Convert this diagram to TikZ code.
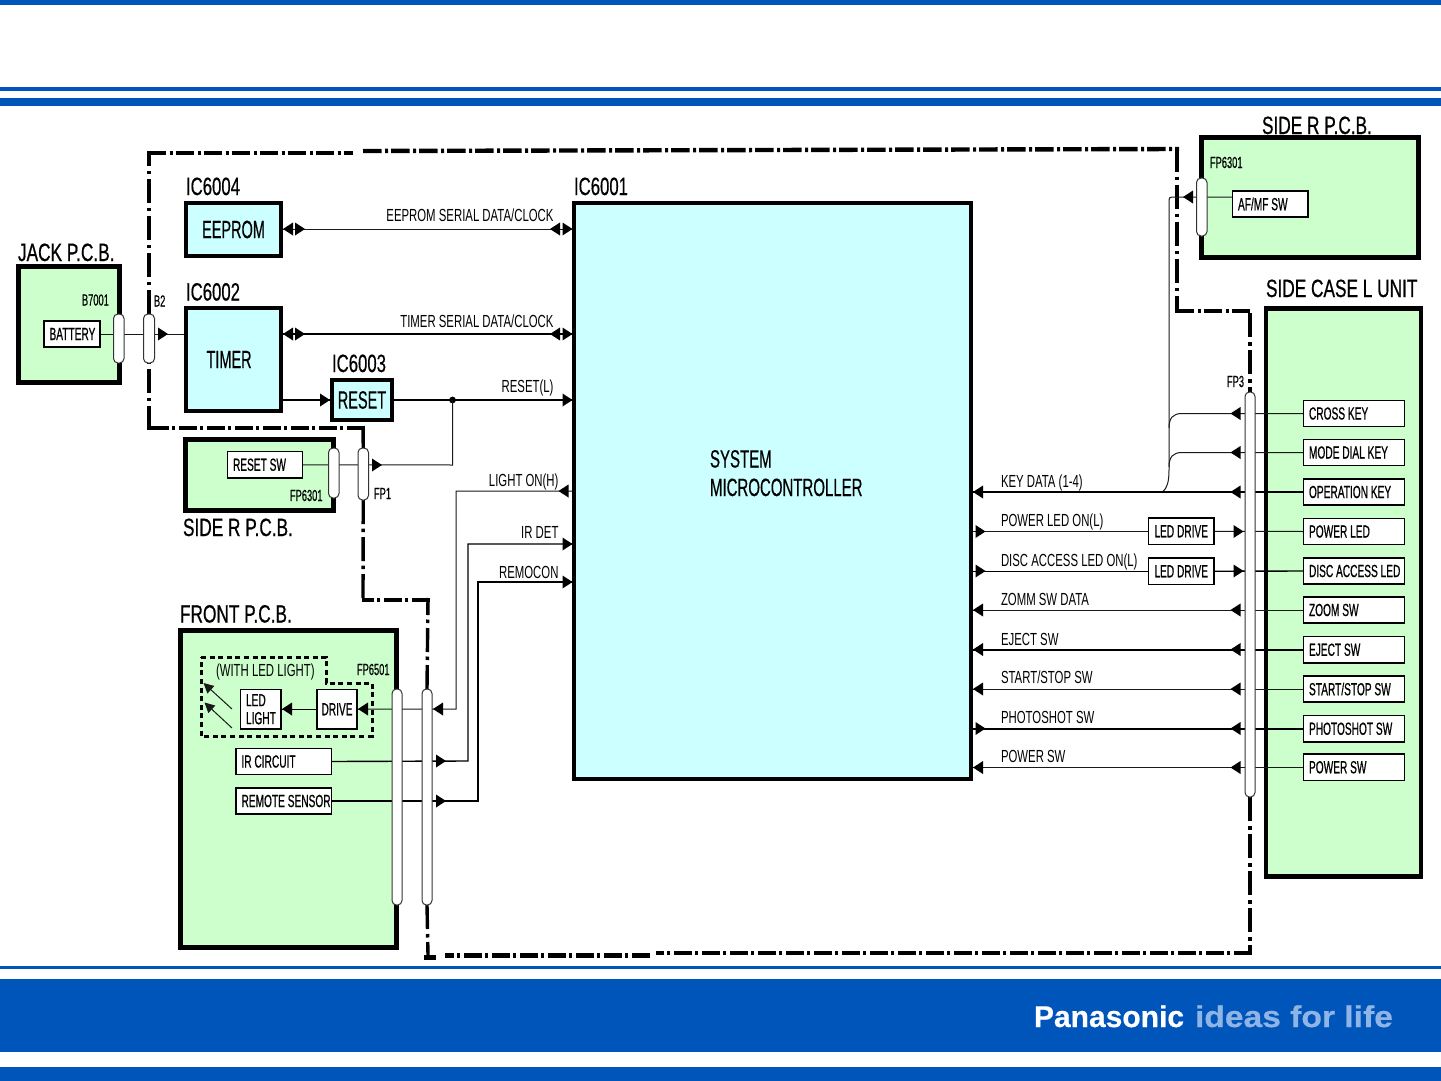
\documentclass[tikz,border=0pt]{standalone}
\usepackage{fontspec}
\usetikzlibrary{arrows.meta}
\setmainfont{Liberation Sans}
\newfontfamily\fnthin[FakeStretch=0.65]{Liberation Sans}
\newfontfamily\fnhead[FakeStretch=0.69,FakeBold=0.6]{Liberation Sans}
\newfontfamily\fnic[FakeStretch=0.67,FakeBold=0.4]{Liberation Sans}
\newfontfamily\fnbold[FakeStretch=0.58,FakeBold=0.6]{Liberation Sans}
\newfontfamily\fnsemi[FakeStretch=0.58,FakeBold=0.4]{Liberation Sans}
\newfontfamily\fnsys[FakeStretch=0.6,FakeBold=0.4]{Liberation Sans}
\newfontfamily\fnlogoA[FakeBold=0.5]{Liberation Sans Bold}
\newfontfamily\fnlogoB[FakeStretch=1.12,FakeBold=0.5]{Liberation Sans Bold}
\newcommand\fsHead{\fnhead\fontsize{25}{25}\selectfont}
\newcommand\fsIc{\fnic\fontsize{25}{25}\selectfont}
\newcommand\fsChip{\fnsemi\fontsize{25}{25}\selectfont}
\newcommand\fsSys{\fnsys\fontsize{25}{25}\selectfont}
\newcommand\fsBox{\fnbold\fontsize{17.5}{19}\selectfont}
\newcommand\fsWire{\fnthin\fontsize{17.5}{19}\selectfont}
\newcommand\fsPin{\fnsemi\fontsize{16}{18}\selectfont}
\definecolor{pana}{HTML}{0055BB}
\definecolor{lightpana}{HTML}{8FB4E6}
\definecolor{boardgreen}{HTML}{CCFFCC}
\definecolor{iccyan}{HTML}{CCFFFF}
\pgfdeclarelayer{back}\pgfdeclarelayer{wire}\pgfsetlayers{back,wire,main}
% box with corners given in pixels; text centred
\newcommand\bx[7][]{%
  \pgfmathsetmacro\bw{#5-#3}\pgfmathsetmacro\bh{#6-#4}%
  \pgfmathsetmacro\cx{(#5+#3)/2}\pgfmathsetmacro\cy{(#6+#4)/2}%
  \node[minimum width=\bw pt,minimum height=\bh pt,inner sep=0pt,outer sep=0pt,#1] (#2) at (\cx,\cy) {#7};}
% box with left-aligned text
\newcommand\lbx[7][]{%
  \pgfmathsetmacro\tw{#5-#3-11}%
  \bx[#1]{#2}{#3}{#4}{#5}{#6}{\makebox[\tw pt][l]{#7}}}
\newcommand\tipR[1]{\fill #1 -- ++(-10,-6.5) -- ++(0,13) -- cycle;}
\newcommand\tipL[1]{\fill #1 -- ++(10,-6.5) -- ++(0,13) -- cycle;}
\tikzset{
  board/.style={draw=black,fill=boardgreen,line width=5pt},
  chip/.style={draw=black,fill=iccyan,line width=4pt,font=\fsChip},
  sw/.style={draw=black,fill=white,line width=1.6pt,font=\fsBox},
  capsule/.style={draw=black!80,fill=white,line width=1pt,rounded corners=4.5pt},
  lab/.style={inner sep=0pt,outer sep=0pt},
  headlab/.style={lab,anchor=base west,font=\fsHead},
  ictext/.style={lab,anchor=base west,font=\fsIc},
  systext/.style={lab,anchor=base west,font=\fsSys},
  pinlab/.style={lab,anchor=base west,font=\fsPin},
  wl/.style={lab,anchor=base west,font=\fsWire},
  wr/.style={lab,anchor=base east,font=\fsWire},
  thin wire/.style={draw=black!90,line width=1pt},
  mid wire/.style={draw=black,line width=1.4pt},
  fat wire/.style={draw=black,line width=1.9pt},
  zoneH/.style={draw=black,line width=4.4pt,dash pattern=on 18.5pt off 3.5pt on 3pt off 3pt},
  zoneV/.style={draw=black,line width=3.4pt,dash pattern=on 24pt off 5pt on 3.5pt off 4.5pt},
  ledzone/.style={draw=black,line width=3pt,dash pattern=on 5pt off 3.6pt},
}
\begin{document}
\begin{tikzpicture}[x=1pt,y=-1pt]
\useasboundingbox (0,0) rectangle (1441,1081);
% frame bands
\begin{pgfonlayer}{back}
\fill[white] (0,0) rectangle (1441,1081);
\fill[pana] (0,0.5) rectangle (1441,5);
\fill[pana] (0,87) rectangle (1441,91);
\fill[pana] (0,98) rectangle (1441,106);
\fill[pana] (0,965.5) rectangle (1441,968.5);
\fill[pana] (0,979) rectangle (1441,1052);
\fill[pana] (0,1067) rectangle (1441,1081);
% boards
\bx[board]{jack}{18.5}{266.5}{119.5}{382.5}{}
\bx[board]{sideRlow}{185.5}{439.5}{333.5}{510.5}{}
\bx[board]{front}{180}{630}{396.5}{947}{}
\bx[board]{sideRtop}{1201.5}{137.5}{1418.5}{257.5}{}
\bx[board,line width=4.5pt]{sideCase}{1266}{308.5}{1421}{876.5}{}
\end{pgfonlayer}
\node[lab,anchor=base west,text=white,font=\fnlogoA\fontsize{30}{30}\selectfont] (logoA) at (1034,1027) {Panasonic};
\node[lab,anchor=base west,text=lightpana,font=\fnlogoB\fontsize{30}{30}\selectfont] (logoB) at (1195,1027) {ideas for life};
% chips
\bx[chip]{eeprom}{186}{203}{281}{256}{EEPROM}
\lbx[chip]{timer}{186}{308}{281}{411}{\hspace{15pt}TIMER}
\bx[chip]{reset}{332}{380}{392}{420}{RESET}
\bx[chip]{main}{574}{203}{971}{779}{}
% capsules
\bx[capsule]{capB}{113.5}{314}{124}{363}{}
\bx[capsule]{capC}{143.5}{314}{154.5}{363}{}
\bx[capsule]{capD}{328.5}{448}{339}{498}{}
\bx[capsule]{capE}{358}{448}{368.5}{500}{}
\bx[capsule]{capF}{392}{689}{402}{905}{}
\bx[capsule]{capG}{422}{689}{432}{905}{}
\bx[capsule]{capH}{1196.5}{178}{1207}{236}{}
\bx[capsule]{capI}{1245}{392}{1255}{797}{}
% left boxes
\lbx[sw]{battery}{44}{321}{100}{347}{BATTERY}
\lbx[sw]{resetsw}{227.5}{451.5}{302.5}{478}{RESET SW}
\lbx[sw]{afmf}{1232.5}{191}{1308}{217}{AF/MF SW}
\lbx[sw]{ledl}{240.5}{689.5}{281}{729}{\parbox{30pt}{\baselineskip=18pt LED\\LIGHT}}
\bx[sw]{drive}{317}{689.5}{357}{729}{DRIVE}
\lbx[sw]{ircirc}{236}{748.5}{331.5}{774.5}{IR CIRCUIT}
\lbx[sw]{remote}{236}{788}{331.5}{814}{REMOTE SENSOR}
% LED drive
\bx[sw]{ldA}{1148.5}{518}{1214}{544.5}{LED DRIVE}
\bx[sw]{ldB}{1148.5}{558}{1214}{584.5}{LED DRIVE}
% right column
\lbx[sw]{kCross}{1303.5}{400.5}{1404.5}{426.5}{CROSS KEY}
\lbx[sw]{kMode}{1303.5}{439.5}{1404.5}{465.5}{MODE DIAL KEY}
\lbx[sw]{kOper}{1303.5}{479}{1404.5}{505}{OPERATION KEY}
\lbx[sw]{kPled}{1303.5}{518.5}{1404.5}{544.5}{POWER LED}
\lbx[sw]{kDisc}{1303.5}{558}{1404.5}{584}{DISC ACCESS LED}
\lbx[sw]{kZoom}{1303.5}{597}{1404.5}{623}{ZOOM SW}
\lbx[sw]{kEject}{1303.5}{636.5}{1404.5}{663}{EJECT SW}
\lbx[sw]{kStart}{1303.5}{676}{1404.5}{702}{START/STOP SW}
\lbx[sw]{kPhoto}{1303.5}{715.5}{1404.5}{742}{PHOTOSHOT SW}
\lbx[sw]{kPower}{1303.5}{754}{1404.5}{780.5}{POWER SW}
% headings
\node[headlab] (tJack) at (18,261) {JACK P.C.B.};
\node[headlab] (tSideL) at (183,536) {SIDE R P.C.B.};
\node[headlab] (tFront) at (180,622.5) {FRONT P.C.B.};
\node[headlab] (tSideT) at (1262,134) {SIDE R P.C.B.};
\node[headlab] (tCase) at (1266,297) {SIDE CASE L UNIT};
\node[ictext] (t6004) at (186,195) {IC6004};
\node[ictext] (t6002) at (186,300.5) {IC6002};
\node[ictext] (t6003) at (332,372) {IC6003};
\node[ictext] (t6001) at (574,195) {IC6001};
\node[systext] (tSys) at (710,467.5) {SYSTEM};
\node[systext] (tMic) at (710,496) {MICROCONTROLLER};
% pins
\node[pinlab] (pB7) at (82,305.5) {B7001};
\node[pinlab] (pB2) at (154,306.5) {B2};
\node[pinlab] (pFPa) at (290,501) {FP6301};
\node[pinlab] (pFP1) at (374,499) {FP1};
\node[pinlab] (pFP6) at (357,675) {FP6501};
\node[pinlab] (pFPb) at (1210,168) {FP6301};
\node[pinlab] (pFP3) at (1227,387) {FP3};
\node[wl] (tWith) at (216,676.5) {(WITH LED LIGHT)};
% wire labels
\node[wr] (wEe) at (553.5,221.5) {EEPROM SERIAL DATA/CLOCK};
\node[wr] (wTi) at (553.5,327) {TIMER SERIAL DATA/CLOCK};
\node[wr] (wRe) at (553.5,392.5) {RESET(L)};
\node[wr] (wLi) at (558.5,486.5) {LIGHT ON(H)};
\node[wr] (wIr) at (558.5,538) {IR DET};
\node[wr] (wRm) at (558.5,578) {REMOCON};
\node[wl] (wKd) at (1001,487) {KEY DATA (1-4)};
\node[wl] (wPl) at (1001,526.5) {POWER LED ON(L)};
\node[wl] (wDa) at (1001,566.5) {DISC ACCESS LED ON(L)};
\node[wl] (wZo) at (1001,605) {ZOMM SW DATA};
\node[wl] (wEj) at (1001,645) {EJECT SW};
\node[wl] (wSt) at (1001,683.5) {START/STOP SW};
\node[wl] (wPh) at (1001,723) {PHOTOSHOT SW};
\node[wl] (wPw) at (1001,762) {POWER SW};
\begin{pgfonlayer}{wire}
% zone boundary
\draw[zoneV] (capC.north) -- (149,151);
\draw[zoneH] (147.5,153) -- (353,153);
\draw[zoneH] (363,151) -- (1179,149);
\draw[zoneV] (1177,147.5) -- (1177,313);
\draw[zoneH] (1175.5,311) -- (1252,311);
\draw[zoneV] (1250,313) -- (capI.north);
\draw[zoneV] (capI.south) -- (1250,955);
\draw[zoneH] (1252,953) -- (656,953);
\draw[zoneH] (650,955.5) -- (445,955.5);
\draw[zoneV] (capG.south) -- (428,955);
\draw[draw=black,line width=4.4pt] (424,957.5) -- (436,957.5);
\draw[zoneV] (capG.north) -- (428,598);
\draw[zoneH] (430,600) -- (361.5,600);
\draw[zoneV] (363,598) -- (capE.south);
\draw[zoneV] (capE.north) -- (363,426);
\draw[zoneH] (365,428) -- (147.5,428);
\draw[zoneV] (149,430) -- (capC.south);
\draw[ledzone] (201,657) -- (326,657) -- (326,683) -- (372,683) -- (372,736) -- (201,736) -- cycle;
% left wires
\draw[thin wire] (battery.east) -- (timer.west |- battery.east);
\tipR{(168,334)}
\draw[thin wire] (eeprom.east) -- (main.west |- eeprom.east);
\tipL{(283,229)} \tipR{(305,229)} \tipL{(550,229)} \tipR{(572.5,229)}
\draw[fat wire] (timer.east |- 0,334) -- (main.west |- 0,334);
\tipL{(283,334)} \tipR{(305,334)} \tipL{(550,334)} \tipR{(572.5,334)}
\draw[mid wire] (timer.east |- reset.west) -- (reset.west);
\tipR{(330,400)}
\draw[mid wire] (reset.east) -- (main.west |- reset.east);
\tipR{(572.5,400)}
\fill (452.5,400) circle (3.4pt);
\draw[thin wire] (resetsw.east) -- (452.5,465) -- (452.5,400);
\tipR{(382,465)}
% front board wires
\draw[thin wire] (main.west |- 0,491) -- (456,491) -- (456,709) -- (drive.east);
\tipL{(558.5,491)} \tipL{(433,709)} \tipL{(358,709)}
\draw[mid wire] (ircirc.east) -- (468,761) -- (468,544) -- (main.west |- 0,544);
\tipR{(446,761)} \tipR{(572.5,544)}
\draw[mid wire] (remote.east) -- (478,801) -- (478,582) -- (main.west |- 0,582);
\tipR{(446,801)} \tipR{(572.5,582)}
\draw[mid wire] (drive.west) -- (ledl.east);
\tipL{(282,709)}
\draw[thin wire,-{Triangle[length=10pt,width=10pt]}] (232,709) -- (203.5,683);
\draw[thin wire,-{Triangle[length=10pt,width=10pt]}] (232,728) -- (204.5,702.5);
% AF/MF and key data
\draw[thin wire] ([yshift=7pt]afmf.west) -- (1172,197) .. controls (1170,197) and (1169,198) .. (1169,200) -- (1169,470) .. controls (1169,482) and (1167,488) .. (1163,491.5);
\tipL{(1183,197)}
\draw[thin wire] (kCross.west) -- (1182,413.5) .. controls (1173,413.5) and (1169,418) .. (1169,428);
\tipL{(1230.5,413.5)}
\draw[thin wire] (kMode.west) -- (1182,452.5) .. controls (1173,452.5) and (1169,457) .. (1169,467);
\tipL{(1230.5,452.5)}
\draw[fat wire] (kOper.west) -- (main.east |- kOper.west);
\tipL{(1230.5,492)} \tipL{(973,492)}
% right wires
\draw[thin wire] (main.east |- ldA.west) -- (ldA.west);
\draw[thin wire] (ldA.east) -- (kPled.west);
\tipR{(985.5,531.5)} \tipR{(1243.5,531.5)}
\draw[mid wire] (main.east |- ldB.west) -- (ldB.west);
\draw[mid wire] (ldB.east) -- (kDisc.west);
\tipR{(985.5,571)} \tipR{(1243.5,571)}
\draw[thin wire] (kZoom.west) -- (main.east |- kZoom.west);
\tipL{(1230.5,610)} \tipL{(973,610)}
\draw[fat wire] (kEject.west) -- (main.east |- kEject.west);
\tipL{(1230.5,649.5)} \tipL{(973,649.5)}
\draw[thin wire] (kStart.west) -- (main.east |- kStart.west);
\tipL{(1230.5,689)} \tipL{(973,689)}
\draw[fat wire] (kPhoto.west) -- (main.east |- kPhoto.west);
\tipL{(1230.5,728.5)} \tipR{(985.5,728.5)}
\draw[thin wire] (kPower.west) -- (main.east |- kPower.west);
\tipL{(1230.5,767.5)} \tipL{(973,767.5)}
\end{pgfonlayer}
\end{tikzpicture}
\end{document}
